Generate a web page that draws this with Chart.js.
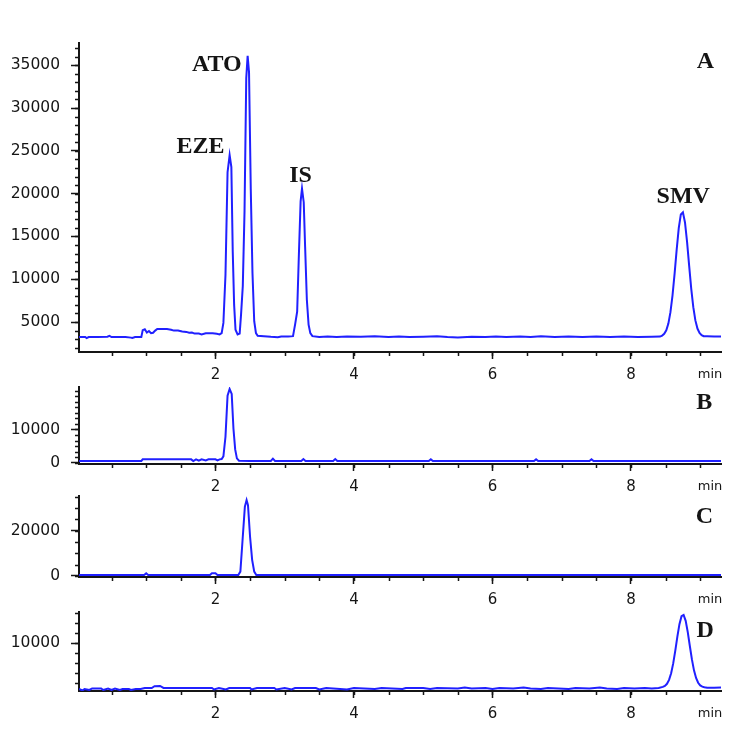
<!DOCTYPE html>
<html>
<head>
<meta charset="utf-8">
<title>Chromatograms A-D</title>
<script src="https://cdn.jsdelivr.net/npm/chart.js@4.4.1/dist/chart.umd.min.js"></script>
<style>
  body { margin: 0; background: #fff; }
  #page { position: relative; width: 746px; height: 730px; overflow: hidden; background: #fff; }
  canvas { position: absolute; left: 0; }
</style>
</head>
<body>
<div id="page">
  <canvas id="chartA" width="746" height="357" style="top:31px"></canvas>
  <canvas id="chartB" width="746" height="125" style="top:375px"></canvas>
  <canvas id="chartC" width="746" height="129" style="top:484px"></canvas>
  <canvas id="chartD" width="746" height="127" style="top:600px"></canvas>
</div>
<script>
// retention time (min) and detector response
const timeA = [
  0.03, 0.12, 0.14, 0.17, 0.30, 0.44, 0.47, 0.50, 0.70, 0.78, 0.80, 0.84, 0.93,
  0.95, 0.98, 1.01, 1.04, 1.07, 1.10, 1.13, 1.16, 1.22, 1.30, 1.36, 1.40, 1.46, 1.52, 1.58, 1.62, 1.66, 1.70, 1.76, 1.80, 1.86, 1.90, 1.96, 2.02, 2.06, 2.09,
  2.115, 2.145, 2.175, 2.205, 2.23, 2.25, 2.27, 2.29, 2.32, 2.35,
  2.37, 2.395, 2.42, 2.445, 2.465, 2.485, 2.51, 2.535, 2.56, 2.585, 2.61,
  2.70, 2.80, 2.90, 2.95, 3.05, 3.12,
  3.15, 3.18, 3.205, 3.23, 3.25, 3.275, 3.295, 3.32, 3.345, 3.37, 3.40,
  3.50, 3.62, 3.75, 3.90, 4.10, 4.30, 4.50, 4.65, 4.80, 5.00, 5.20, 5.35, 5.50, 5.70, 5.90, 6.05, 6.20, 6.40, 6.55, 6.70, 6.90, 7.10, 7.30, 7.50, 7.70, 7.90, 8.10, 8.30, 8.42,
  8.45, 8.48, 8.51, 8.54, 8.57, 8.60, 8.63, 8.66, 8.69, 8.72, 8.75, 8.78, 8.81, 8.84, 8.87, 8.90, 8.93, 8.96, 8.99, 9.02, 9.05, 9.10, 9.20, 9.30
];
const signalA = [
  3250, 3250, 3130, 3250, 3250, 3280, 3380, 3250, 3250, 3180, 3130, 3250, 3250,
  4050, 4150, 3780, 3950, 3700, 3750, 4000, 4180, 4200, 4190, 4100, 4000, 4020, 3900, 3850, 3750, 3780, 3650, 3650, 3560, 3700, 3680, 3700, 3620, 3560, 3700,
  4900, 10500, 22500, 24500, 23100, 13200, 7000, 4100, 3550, 3650,
  5900, 9200, 17900, 33500, 36100, 34200, 20600, 10700, 5100, 3700, 3400,
  3350, 3280, 3230, 3320, 3300, 3350,
  4700, 6200, 12900, 19100, 20600, 19000, 13800, 7600, 4700, 3700, 3350,
  3250, 3300, 3250, 3320, 3280, 3350, 3250, 3320, 3250, 3280, 3330, 3250, 3200, 3280, 3260, 3310, 3240, 3300, 3250, 3330, 3240, 3300, 3260, 3300, 3240, 3300, 3250, 3290, 3300,
  3420, 3620, 4030, 4820, 6150, 8120, 10660, 13460, 15970, 17570, 17820, 16630, 14370, 11590, 8910, 6730, 5190, 4240, 3720, 3470, 3350, 3330, 3300, 3300
];

const timeB = [0.03, 0.50, 0.93, 0.95, 1.30, 1.65, 1.68, 1.72, 1.76, 1.80, 1.86, 1.90, 2.00, 2.03, 2.06, 2.09,
  2.115, 2.145, 2.175, 2.205, 2.235, 2.26, 2.285, 2.31, 2.34, 2.50,
  2.80, 2.83, 2.86, 3.24, 3.27, 3.30, 3.70, 3.73, 3.76, 5.08, 5.11, 5.14, 6.60, 6.63, 6.66, 7.40, 7.43, 7.46, 9.30];
const signalB = [500, 500, 500, 1000, 1000, 1000, 500, 1000, 600, 1000, 700, 1000, 1000, 700, 1000, 1100,
  1900, 7800, 20200, 22200, 20700, 10300, 4000, 1300, 600, 500,
  500, 1200, 500, 500, 1100, 500, 500, 1100, 500, 500, 1000, 500, 500, 1000, 500, 500, 1000, 500, 500];

const timeC = [0.03, 0.97, 1.00, 1.03, 1.92, 1.95, 2.00, 2.03, 2.33,
  2.36, 2.39, 2.425, 2.45, 2.47, 2.50, 2.53, 2.56, 2.59, 9.30];
const signalC = [400, 400, 1100, 400, 400, 1200, 1200, 400, 400,
  1900, 15100, 30600, 33500, 31300, 17300, 7100, 1900, 400, 400];

const timeD = [0.03, 0.08, 0.11, 0.18, 0.22, 0.35, 0.38, 0.45, 0.50, 0.55, 0.62, 0.66, 0.75, 0.78, 0.85, 0.92, 0.98, 1.08, 1.12, 1.20,
  1.25, 1.50, 1.60, 1.95, 1.98, 2.05, 2.15, 2.20, 2.50, 2.52, 2.60, 2.85, 2.88, 3.00, 3.10, 3.15, 3.45, 3.50, 3.60, 3.90,
  4.00, 4.30, 4.40, 4.70, 4.75, 5.00, 5.10, 5.20, 5.50, 5.60, 5.70, 5.90, 6.00, 6.10, 6.30, 6.45, 6.55, 6.70, 6.80, 6.95,
  7.10, 7.20, 7.40, 7.55, 7.65, 7.80, 7.90, 8.05, 8.20, 8.30, 8.40,
  8.46, 8.49, 8.52, 8.55, 8.58, 8.61, 8.64, 8.67, 8.70, 8.73, 8.76, 8.79, 8.82, 8.85, 8.88, 8.91, 8.94, 8.97, 9.00, 9.03, 9.06, 9.10, 9.20, 9.30];
const signalD = [900, 600, 900, 700, 1000, 1000, 700, 1000, 700, 1000, 700, 900, 900, 700, 900, 900, 1100, 1100, 1450, 1500,
  1100, 1100, 1100, 1100, 800, 1100, 800, 1100, 1100, 800, 1100, 1100, 800, 1100, 800, 1100, 1100, 800, 1100, 800,
  1100, 900, 1100, 900, 1100, 1100, 900, 1100, 1000, 1200, 1000, 1100, 900, 1100, 1000, 1200, 1000, 900, 1100, 1000,
  900, 1100, 1000, 1200, 1000, 900, 1100, 1000, 1100, 1000, 1100,
  1325, 1515, 1925, 2710, 4030, 5985, 8510, 11290, 13790, 15380, 15610, 14440, 12190, 9440, 6770, 4610, 3085, 2140, 1620, 1370, 1250, 1150, 1150, 1200];

// tick labels
const xTicks = [2, 4, 6, 8];
const yTicksA = [5000, 10000, 15000, 20000, 25000, 30000, 35000];
const yTicksB = [0, 10000];
const yTicksC = [0, 20000];
const yTicksD = [10000];

// peak names and panel letters
const peakNamesA = ['EZE', 'ATO', 'IS', 'SMV'];

const INK = '#151515';
const TRACE = '#2020ff';

// short minor ticks, peak / panel annotations and the "min" unit
const overlay = {
  id: 'overlay',
  afterDraw(chart, args, opts) {
    const ctx = chart.ctx, xs = chart.scales.x, ys = chart.scales.y, area = chart.chartArea;
    ctx.save();
    ctx.strokeStyle = INK;
    ctx.lineWidth = 1.5;
    ctx.beginPath();
    for (let k = Math.ceil(xs.min / 0.5); k * 0.5 <= xs.max; k++) {
      const px = Math.round(xs.getPixelForValue(k * 0.5)) + 0.5;
      ctx.moveTo(px, area.bottom);
      ctx.lineTo(px, area.bottom + 4);
    }
    for (let k = Math.ceil(ys.min / opts.yMinor); k * opts.yMinor <= ys.max + 1; k++) {
      const py = Math.round(ys.getPixelForValue(k * opts.yMinor)) + 0.5;
      ctx.moveTo(area.left - 4, py);
      ctx.lineTo(area.left, py);
    }
    ctx.stroke();

    ctx.fillStyle = INK;
    ctx.textAlign = 'center';
    ctx.textBaseline = 'middle';
    ctx.font = 'bold 24px "Liberation Serif"';
    opts.notes.forEach(n => ctx.fillText(n.text, xs.getPixelForValue(n.x), ys.getPixelForValue(n.y)));

    ctx.font = '13px "DejaVu Sans"';
    ctx.fillText('min', area.right - 11, area.bottom + 23);
    ctx.restore();
  }
};

function makeChart(id, times, values, yMin, yMax, yTicks, yMinor, notes) {
  return new Chart(document.getElementById(id), {
    type: 'line',
    data: {
      datasets: [{
        data: times.map((t, i) => ({ x: t, y: values[i] })),
        borderColor: TRACE,
        borderWidth: 2,
        pointRadius: 0,
        tension: 0,
        fill: false
      }]
    },
    options: {
      responsive: false,
      animation: false,
      events: [],
      layout: { padding: { top: 12, right: 25, left: 0, bottom: 0 } },
      plugins: {
        legend: { display: false },
        tooltip: { enabled: false },
        overlay: { yMinor: yMinor, notes: notes }
      },
      scales: {
        x: {
          type: 'linear',
          min: 0.03,
          max: 9.3,
          afterBuildTicks: s => { s.ticks = xTicks.map(v => ({ value: v })); },
          afterFit: s => { s.height = 36; s.paddingLeft = 0; s.paddingRight = 0; },
          ticks: {
            callback: v => String(v),
            font: { family: 'DejaVu Sans', size: 15 },
            color: INK,
            padding: 7,
            maxRotation: 0,
            autoSkip: false
          },
          grid: { drawOnChartArea: false, tickLength: 7, tickWidth: 1.5, tickColor: INK },
          border: { color: INK, width: 2 }
        },
        y: {
          type: 'linear',
          min: yMin,
          max: yMax,
          afterBuildTicks: s => { s.ticks = yTicks.map(v => ({ value: v })); },
          afterFit: s => { s.width = 79; s.paddingTop = 0; s.paddingBottom = 0; },
          ticks: {
            callback: v => String(v),
            font: { family: 'DejaVu Sans', size: 15.5 },
            color: INK,
            padding: 11,
            autoSkip: false
          },
          grid: { drawOnChartArea: false, tickLength: 8, tickWidth: 1.5, tickColor: INK },
          border: { color: INK, width: 2 }
        }
      }
    },
    plugins: [overlay]
  });
}

document.addEventListener('DOMContentLoaded', function () {
  makeChart('chartA', timeA, signalA, 1500, 37600, yTicksA, 1000, [
    { text: peakNamesA[0], x: 1.785, y: 25440 },
    { text: peakNamesA[1], x: 2.02, y: 35060 },
    { text: peakNamesA[2], x: 3.23, y: 22080 },
    { text: peakNamesA[3], x: 8.755, y: 19650 },
    { text: 'A', x: 9.075, y: 35350 }
  ]);
  makeChart('chartB', timeB, signalB, -400, 22800, yTicksB, 10000 / 6, [
    { text: 'B', x: 9.06, y: 18000 }
  ]);
  makeChart('chartC', timeC, signalC, -500, 35300, yTicksC, 5000, [
    { text: 'C', x: 9.06, y: 26050 }
  ]);
  makeChart('chartD', timeD, signalD, 500, 16200, yTicksD, 2000, [
    { text: 'D', x: 9.07, y: 12540 }
  ]);
});
</script>
</body>
</html>
